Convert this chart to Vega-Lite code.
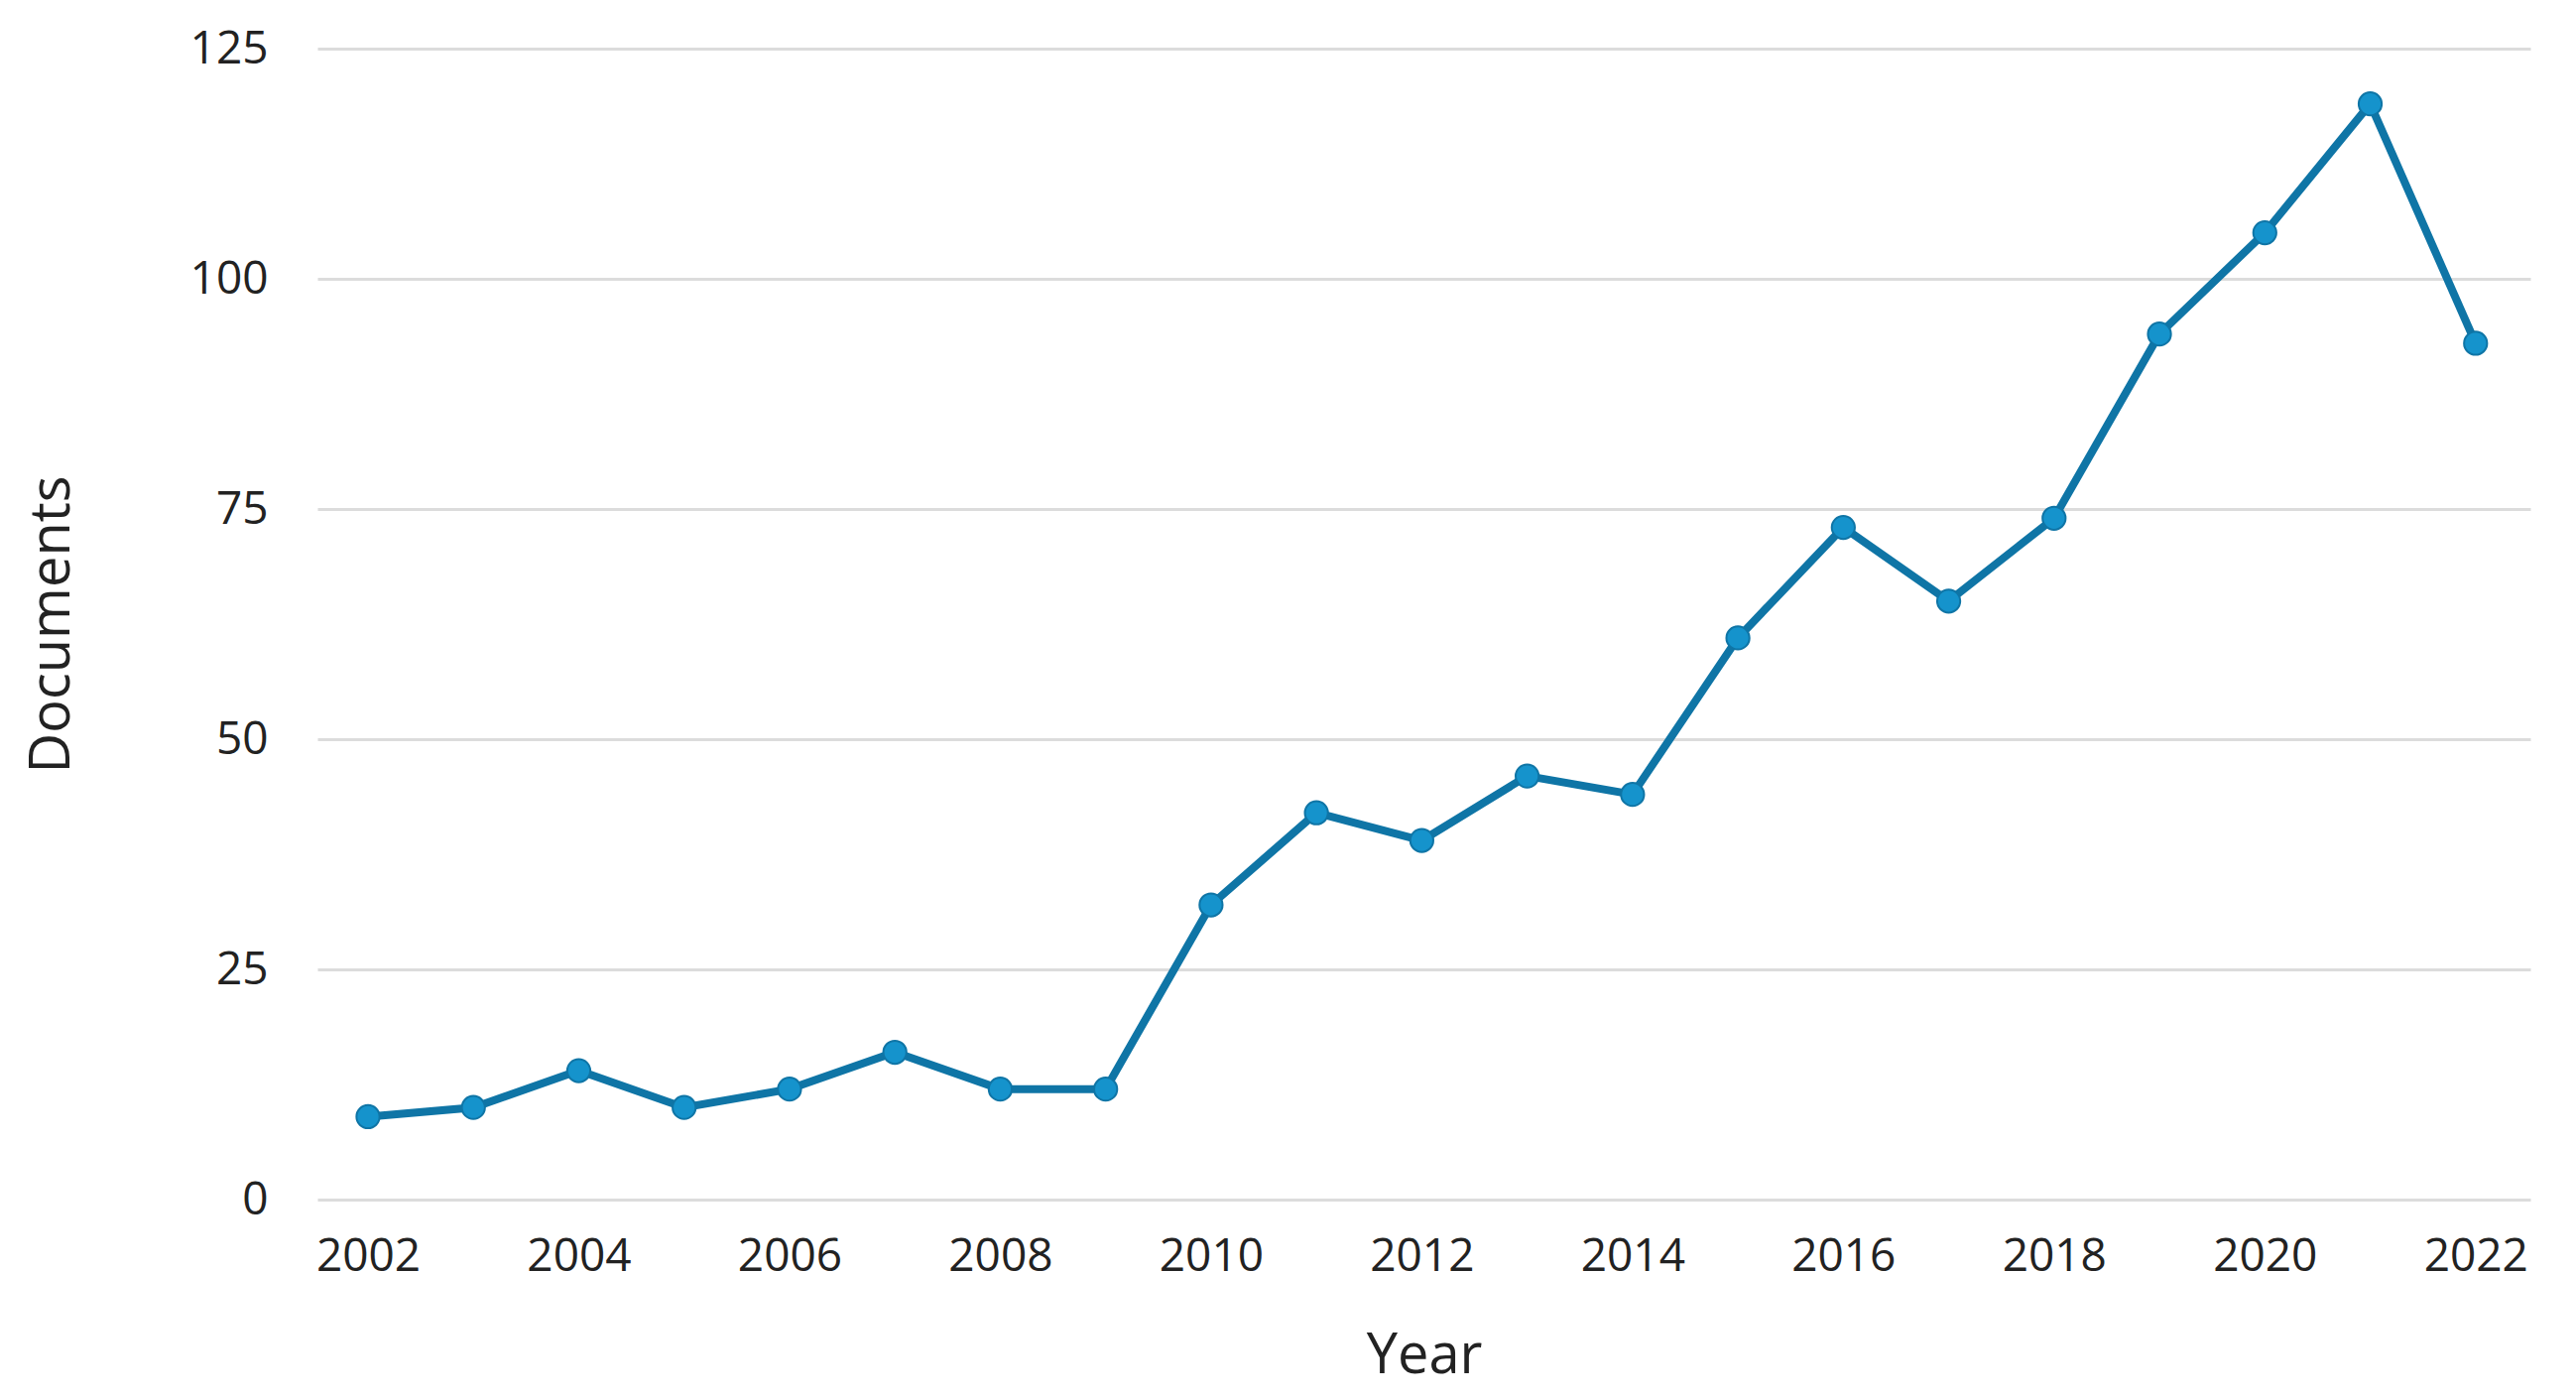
{
  "$schema": "https://vega.github.io/schema/vega-lite/v6.json",
  "width": 2231,
  "height": 1160,
  "autosize": {"type": "none"},
  "padding": {"left": 320, "top": 49, "right": 46, "bottom": 201},
  "background": "white",
  "config": {
    "view": {"stroke": null},
    "font": "Open Sans",
    "axis": {
      "labelFont": "Open Sans",
      "titleFont": "Open Sans",
      "labelColor": "#222222",
      "titleColor": "#222222",
      "titleFontWeight": "normal",
      "labelFontSize": 46,
      "titleFontSize": 56,
      "gridColor": "#dcdcdc",
      "gridWidth": 3,
      "ticks": false,
      "domain": false
    }
  },
  "data": {
    "values": [
      {"Year": 2002, "Documents": 9},
      {"Year": 2003, "Documents": 10},
      {"Year": 2004, "Documents": 14},
      {"Year": 2005, "Documents": 10},
      {"Year": 2006, "Documents": 12},
      {"Year": 2007, "Documents": 16},
      {"Year": 2008, "Documents": 12},
      {"Year": 2009, "Documents": 12},
      {"Year": 2010, "Documents": 32},
      {"Year": 2011, "Documents": 42},
      {"Year": 2012, "Documents": 39},
      {"Year": 2013, "Documents": 46},
      {"Year": 2014, "Documents": 44},
      {"Year": 2015, "Documents": 61},
      {"Year": 2016, "Documents": 73},
      {"Year": 2017, "Documents": 65},
      {"Year": 2018, "Documents": 74},
      {"Year": 2019, "Documents": 94},
      {"Year": 2020, "Documents": 105},
      {"Year": 2021, "Documents": 119},
      {"Year": 2022, "Documents": 93}
    ]
  },
  "encoding": {
    "x": {
      "field": "Year",
      "type": "quantitative",
      "scale": {"domain": [2001.52, 2022.52], "nice": false, "zero": false},
      "axis": {
        "values": [2002, 2004, 2006, 2008, 2010, 2012, 2014, 2016, 2018, 2020, 2022],
        "format": "d",
        "grid": false,
        "labelPadding": 35,
        "titlePadding": 50,
        "title": "Year"
      }
    },
    "y": {
      "field": "Documents",
      "type": "quantitative",
      "scale": {"domain": [0, 125], "nice": false},
      "axis": {
        "values": [0, 25, 50, 75, 100, 125],
        "labelPadding": 50,
        "titlePadding": 110,
        "title": "Documents"
      }
    }
  },
  "layer": [
    {
      "mark": {"type": "line", "color": "#0f75a6", "strokeWidth": 8}
    },
    {
      "mark": {"type": "point", "filled": true, "fill": "#1593cc", "stroke": "#0f75a6", "strokeWidth": 2, "size": 540, "shape": "circle", "opacity": 1}
    }
  ]
}
